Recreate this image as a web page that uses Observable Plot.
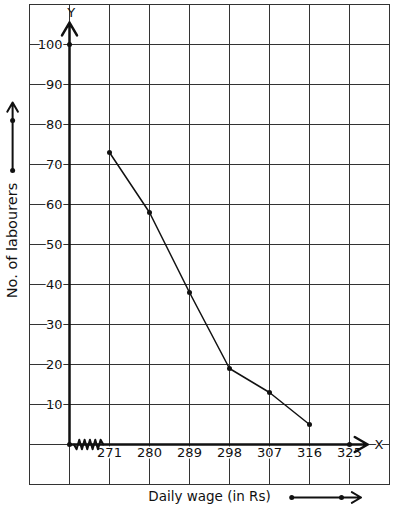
<!DOCTYPE html>
<html>
<head>
<meta charset="utf-8">
<script src="https://cdn.jsdelivr.net/npm/d3@7"></script>
<script src="https://cdn.jsdelivr.net/npm/@observablehq/plot@0.6"></script>
<style>
  html, body { margin: 0; padding: 0; background: white; }
  svg { display: block; }
</style>
</head>
<body>
<div id="chart"></div>
<script>
// Data
const wages = [271, 280, 289, 298, 307, 316];
const labourers = [73, 58, 38, 19, 13, 5];
const xTicks = [271, 280, 289, 298, 307, 316, 325];
const yTicks = [10, 20, 30, 40, 50, 60, 70, 80, 90, 100];
const xTitle = "Daily wage (in Rs)";
const yTitle = "No. of labourers";

// Axis break (zigzag), in data units
const zigX = [263, 263.6, 264.2, 264.8, 265.4, 266, 266.6, 267.2, 267.8, 268.4, 269, 269.6];
const zigY = [0, -1.2, 1.2, -1.2, 1.2, -1.2, 1.2, -1.2, 1.2, -1.2, 1.2, 0];

const series = wages.map((w, i) => ({w, n: labourers[i]}));
const zig = zigX.map((x, i) => ({x, y: zigY[i]}));

const ink = "#111";
const gridC = "#333";

const chart = Plot.plot({
  width: 394,
  height: 510,
  marginLeft: 29,
  marginRight: 5,
  marginTop: 4,
  marginBottom: 26,
  x: {domain: [253, 334], axis: null},
  y: {domain: [-10, 110], axis: null},
  style: {fontFamily: "DejaVu Sans", fontSize: "13px", background: "white", color: ink},
  marks: [
    // grid
    Plot.ruleX([262, ...xTicks], {y1: -10, y2: 110, stroke: gridC, strokeWidth: 1}),
    Plot.ruleY([0, ...yTicks], {x1: 253, x2: 334, stroke: gridC, strokeWidth: 1}),
    Plot.frame({stroke: gridC, strokeWidth: 1}),
    // tick labels with white halo
    Plot.text(yTicks, {x: 262, y: d => d, text: d => String(d), textAnchor: "end", dx: -7,
      fill: ink, stroke: "white", strokeWidth: 3, fontSize: 13}),
    Plot.text(xTicks, {x: d => d, y: 0, text: d => String(d), lineAnchor: "top", dy: 3,
      fill: ink, stroke: "white", strokeWidth: 3, fontSize: 13}),
    // axes with arrows
    Plot.arrow([{}], {x1: 262, y1: 0, x2: 262, y2: 105.5, stroke: ink, strokeWidth: 2.5, headLength: 9, headAngle: 60}),
    Plot.arrow([{}], {x1: 262, y1: 0, x2: 329.1, y2: 0, stroke: ink, strokeWidth: 2.5, headLength: 9, headAngle: 60}),
    Plot.line(zig, {x: "x", y: "y", stroke: ink, strokeWidth: 2}),
    Plot.dot([{x: 262, y: 100}, {x: 262, y: 0}, {x: 325, y: 0}], {x: "x", y: "y", r: 2.5, fill: ink}),
    Plot.text(["Y"], {x: 262.4, y: 108, text: d => d, fill: ink, fontSize: 13}),
    Plot.text(["X"], {x: 331.6, y: 0, text: d => d, fill: ink, stroke: "white", strokeWidth: 3, fontSize: 13}),
    // data line
    Plot.line(series, {x: "w", y: "n", stroke: ink, strokeWidth: 1.5}),
    Plot.dot(series, {x: "w", y: "n", r: 2.5, fill: ink}),
    // titles and decorative arrows outside frame
    Plot.text([yTitle], {x: 249.2, y: 51, text: d => d, rotate: -90, fill: ink, fontSize: 14.5}),
    Plot.arrow([{}], {x1: 249.2, y1: 68.5, x2: 249.2, y2: 85.5, stroke: ink, strokeWidth: 2, headLength: 8, headAngle: 60}),
    Plot.dot([{x: 249.2, y: 68.5}, {x: 249.2, y: 81}], {x: "x", y: "y", r: 2.5, fill: ink}),
    Plot.text([xTitle], {x: 293.5, y: -13, text: d => d, fill: ink, fontSize: 13.5}),
    Plot.arrow([{}], {x1: 312, y1: -13.25, x2: 327.6, y2: -13.25, stroke: ink, strokeWidth: 2, headLength: 8, headAngle: 60}),
    Plot.dot([{x: 312, y: -13.25}, {x: 323.2, y: -13.25}], {x: "x", y: "y", r: 2.5, fill: ink})
  ]
});
document.getElementById("chart").append(chart);
</script>
</body>
</html>
